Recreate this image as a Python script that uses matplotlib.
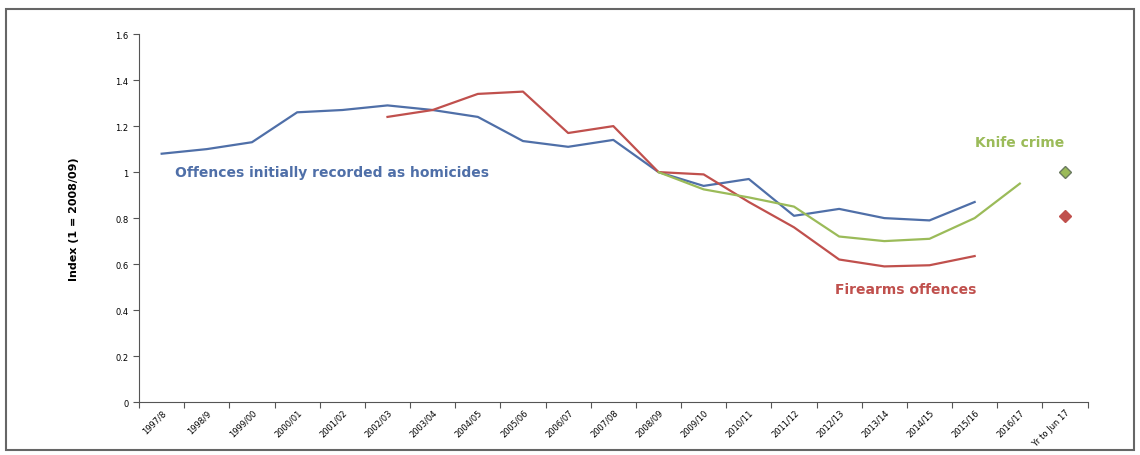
import numpy as np
import matplotlib
matplotlib.use('Agg')
import matplotlib.pyplot as plt
from matplotlib.patches import Rectangle

# categories (financial years, last one = year to June 2017)
years = ['1997/8', '1998/9', '1999/00', '2000/01', '2001/02', '2002/03', '2003/04',
         '2004/05', '2005/06', '2006/07', '2007/08', '2008/09', '2009/10', '2010/11',
         '2011/12', '2012/13', '2013/14', '2014/15', '2015/16', '2016/17', 'Yr to Jun 17']

# index values, 1 = 2008/09
homicides = [1.08, 1.10, 1.13, 1.26, 1.27, 1.29, 1.27, 1.24, 1.135, 1.11, 1.14,
             1.0, 0.94, 0.97, 0.81, 0.84, 0.80, 0.79, 0.87]
firearms = [1.24, 1.27, 1.34, 1.35, 1.17, 1.20, 1.0, 0.99, 0.87, 0.76, 0.62,
            0.59, 0.595, 0.635]
knife = [1.0, 0.925, 0.89, 0.85, 0.72, 0.70, 0.71, 0.80, 0.95]
latest_knife = 1.0
latest_firearms = 0.81

blue, red, green = '#4F6FA8', '#C0504D', '#9BBB59'

fig = plt.figure(figsize=(11.4, 4.56), dpi=100)
ax = fig.add_axes([0.122, 0.116, 0.832, 0.807])

x = np.arange(len(years))
ax.plot(x[:len(homicides)], homicides, color=blue, lw=1.6)
ax.plot(x[5:5 + len(firearms)], firearms, color=red, lw=1.6)
ax.plot(x[11:11 + len(knife)], knife, color=green, lw=1.6)
ax.plot(x[-1], latest_knife, 'D', ms=6, mfc=green, mec='#6a7a60')
ax.plot(x[-1], latest_firearms, 'D', ms=6, mfc=red, mec=red)

ax.set_xlim(-0.5, len(years) - 0.5)
ax.set_ylim(0, 1.6)
ax.set_yticks(np.arange(0, 1.61, 0.2))
ax.set_yticklabels(['0', '0.2', '0.4', '0.6', '0.8', '1', '1.2', '1.4', '1.6'], fontsize=6)
ax.set_xticks(np.arange(-0.5, len(years), 1.0))
ax.set_xticklabels([])
ax.set_xticks(x, minor=True)
ax.set_xticklabels(years, minor=True, rotation=45, ha='right', rotation_mode='anchor', fontsize=6)
ax.tick_params(axis='x', which='minor', length=0, pad=4)
ax.tick_params(axis='both', which='major', length=4, width=0.8, color='#555555')
for s in ['top', 'right']:
    ax.spines[s].set_visible(False)
for s in ['left', 'bottom']:
    ax.spines[s].set_color('#555555')

ax.set_ylabel('Index (1 = 2008/09)', fontsize=8, fontweight='bold', labelpad=26)

ax.text(0.3, 1.0, 'Offences initially recorded as homicides', color=blue,
        fontsize=10, fontweight='bold', va='center')
ax.text(18.0, 1.13, 'Knife crime', color=green, fontsize=10, fontweight='bold', va='center')
ax.text(14.9, 0.49, 'Firearms offences', color=red, fontsize=10, fontweight='bold', va='center')

# outer chart frame
fig.patches.append(Rectangle((0.005, 0.01), 0.99, 0.968, transform=fig.transFigure,
                             fill=False, edgecolor='#666666', lw=1.5))

fig.savefig('out.png', dpi=100)
